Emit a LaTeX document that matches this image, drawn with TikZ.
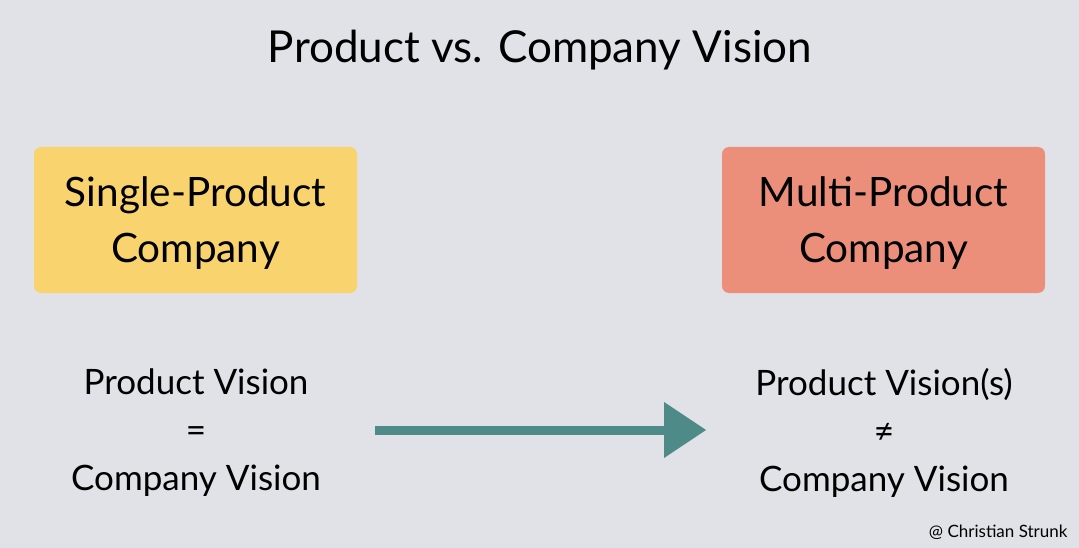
\documentclass[tikz,border=0pt]{standalone}
\usepackage{fontspec}
\setmainfont{Lato}
\definecolor{bg}{HTML}{E1E2E7}
\definecolor{yel}{HTML}{F9D46E}
\definecolor{sal}{HTML}{EB8F7B}
\definecolor{teal}{HTML}{4E8A87}
\begin{document}
\begin{tikzpicture}[x=1pt,y=-1pt,
  box/.style={rounded corners=7pt,minimum width=323pt,minimum height=146pt,inner sep=0pt,align=center,font=\fontsize{40.5}{56}\selectfont},
  lab/.style={align=center,font=\fontsize{35}{48}\selectfont}]
\fill[bg] (0,0) rectangle (1079,548);
\useasboundingbox (0,0) rectangle (1079,548);
\node[font=\fontsize{44}{50}\selectfont] (title) at (540,50) {Product vs. Company Vision};
\node[box,fill=yel] (single) at (195.5,220) {};
\node[box,fill=sal] (multi) at (883.5,220) {};
\node[box] (singlet) at (195.5,223) {Single-Product\\Company};
\node[box] (multit) at (883.5,223) {Multi-Product\\Company};
\node[lab] (lv) at (196,433) {Product Vision\\=\\Company Vision};
\node[lab] (rv) at (884,433) {Product Vision(s)\\≠\\Company Vision};
\coordinate (a1) at (375,430);
\coordinate (a2) at (706,430);
\draw[teal,line width=9pt] (a1) -- (666,430);
\fill[teal] (a2) -- (664,402) -- (664,458) -- cycle;
\node[anchor=east,font=\fontsize{17}{20}\selectfont] (credit) at (1071,532) {@ Christian Strunk};
\end{tikzpicture}
\end{document}
